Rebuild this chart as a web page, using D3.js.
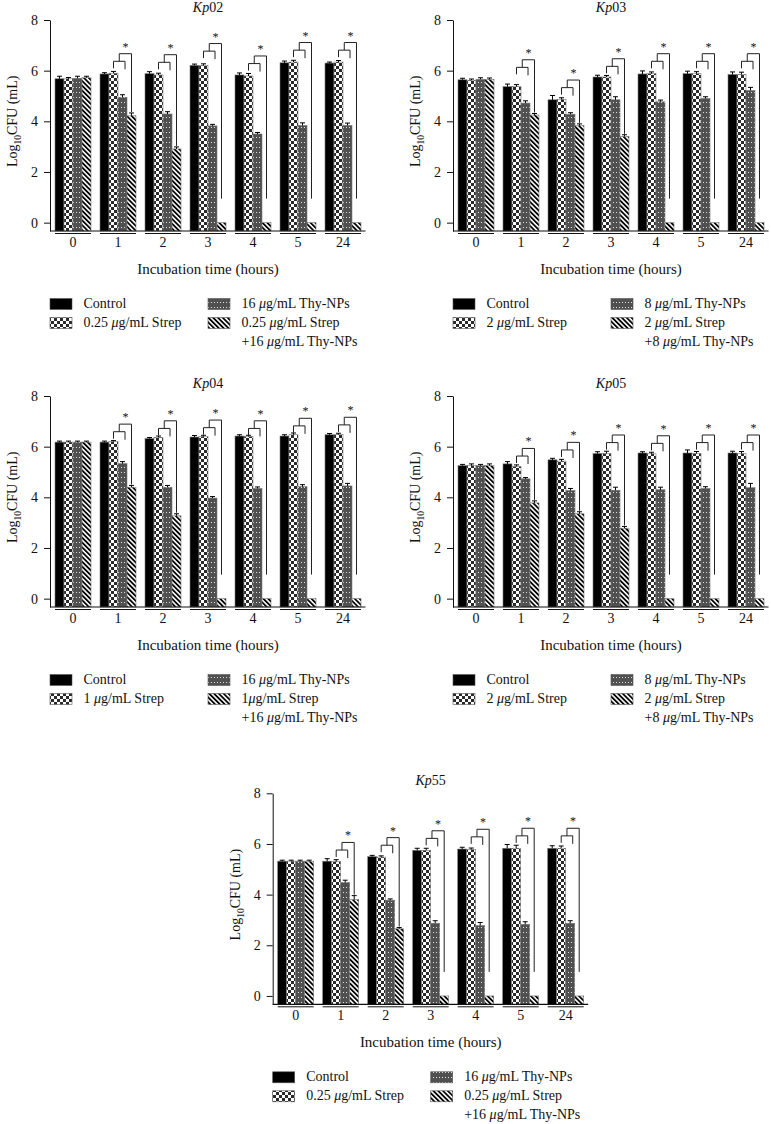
<!DOCTYPE html>
<html>
<head>
<meta charset="utf-8">
<script src="https://cdn.jsdelivr.net/npm/d3@7"></script>
<style>
body { margin: 0; background: #fff; }
text { font-family: "Liberation Serif", "DejaVu Serif", serif; fill: #111; }
</style>
</head>
<body>
<script>
var hours = ["0", "1", "2", "3", "4", "5", "24"];
var yTicks = [0, 2, 4, 6, 8];

// rows: control, strep, thy-NPs, strep + thy-NPs
var kp02 = [[5.68, 5.87, 5.88, 6.21, 5.83, 6.31, 6.30],
            [5.68, 5.90, 5.83, 6.21, 5.79, 6.34, 6.34],
            [5.70, 4.95, 4.29, 3.82, 3.50, 3.84, 3.84],
            [5.72, 4.22, 2.91, 0, 0, 0, 0]];
var kp02Err = [[0.08, 0.03, 0.06, 0.03, 0.06, 0.05, 0.02],
               [0.03, 0.05, 0.05, 0.04, 0.08, 0.05, 0.04],
               [0.06, 0.08, 0.07, 0.04, 0.04, 0.08, 0.07],
               [0.04, 0.09, 0.06, 0, 0, 0, 0]];
var kp02Sig = [null, 6.37, 6.33, 6.77, 6.28, 6.81, 6.81];

var kp03 = [[5.64, 5.37, 4.85, 5.75, 5.87, 5.88, 5.85],
            [5.62, 5.37, 4.87, 5.75, 5.88, 5.88, 5.85],
            [5.66, 4.72, 4.28, 4.85, 4.77, 4.90, 5.22],
            [5.66, 4.25, 3.83, 3.40, 0, 0, 0]];
var kp03Err = [[0.04, 0.08, 0.15, 0.05, 0.10, 0.08, 0.08],
               [0.03, 0.06, 0.04, 0.04, 0.05, 0.06, 0.07],
               [0.04, 0.07, 0.04, 0.10, 0.05, 0.05, 0.10],
               [0.03, 0.04, 0.05, 0.05, 0, 0, 0]];
var kp03Sig = [null, 6.13, 5.33, 6.17, 6.37, 6.37, 6.37];

var kp04 = [[6.18, 6.18, 6.32, 6.38, 6.42, 6.42, 6.47],
            [6.18, 6.20, 6.37, 6.40, 6.40, 6.47, 6.48],
            [6.18, 5.33, 4.40, 3.97, 4.35, 4.42, 4.45],
            [6.18, 4.40, 3.27, 0, 0, 0, 0]];
var kp04Err = [[0.02, 0.02, 0.02, 0.04, 0.03, 0.03, 0.03],
               [0.02, 0.02, 0.03, 0.03, 0.03, 0.05, 0.03],
               [0.02, 0.06, 0.05, 0.04, 0.04, 0.06, 0.08],
               [0.02, 0.05, 0.06, 0, 0, 0, 0]];
var kp04Sig = [null, 6.59, 6.72, 6.75, 6.72, 6.82, 6.86];

var kp05 = [[5.25, 5.32, 5.48, 5.73, 5.75, 5.75, 5.75],
            [5.25, 5.22, 5.43, 5.73, 5.72, 5.73, 5.73],
            [5.25, 4.73, 4.27, 4.28, 4.30, 4.35, 4.38],
            [5.25, 3.78, 3.35, 2.78, 0, 0, 0]];
var kp05Err = [[0.03, 0.07, 0.04, 0.05, 0.03, 0.10, 0.05],
               [0.05, 0.04, 0.05, 0.07, 0.04, 0.06, 0.06],
               [0.03, 0.03, 0.06, 0.10, 0.08, 0.05, 0.15],
               [0.05, 0.06, 0.06, 0.05, 0, 0, 0]];
var kp05Sig = [null, 5.63, 5.87, 6.16, 6.13, 6.16, 6.16];

var kp55 = [[5.32, 5.32, 5.50, 5.75, 5.80, 5.83, 5.83],
            [5.32, 5.30, 5.48, 5.75, 5.78, 5.83, 5.83],
            [5.32, 4.48, 3.78, 2.87, 2.78, 2.83, 2.87],
            [5.32, 3.80, 2.65, 0, 0, 0, 0]];
var kp55Err = [[0.02, 0.08, 0.03, 0.06, 0.05, 0.13, 0.08],
               [0.02, 0.06, 0.03, 0.06, 0.04, 0.10, 0.07],
               [0.02, 0.07, 0.03, 0.08, 0.10, 0.08, 0.08],
               [0.02, 0.14, 0.03, 0, 0, 0, 0]];
var kp55Sig = [null, 5.76, 5.95, 6.22, 6.28, 6.32, 6.32];

// legend labels: control, strep, thy-NPs, combination (two lines)
var legend02 = ["Control", "0.25 μg/mL Strep", "16 μg/mL Thy-NPs", "0.25 μg/mL Strep", "+16 μg/mL Thy-NPs"];
var legend03 = ["Control", "2 μg/mL Strep", "8 μg/mL Thy-NPs", "2 μg/mL Strep", "+8 μg/mL Thy-NPs"];
var legend04 = ["Control", "1 μg/mL Strep", "16 μg/mL Thy-NPs", "1μg/mL Strep", "+16 μg/mL Thy-NPs"];
var legend05 = ["Control", "2 μg/mL Strep", "8 μg/mL Thy-NPs", "2 μg/mL Strep", "+8 μg/mL Thy-NPs"];
var legend55 = ["Control", "0.25 μg/mL Strep", "16 μg/mL Thy-NPs", "0.25 μg/mL Strep", "+16 μg/mL Thy-NPs"];

var panels = [
  {name: "02", vals: kp02, err: kp02Err, sig: kp02Sig, legend: legend02, left: 50, top: 20},
  {name: "03", vals: kp03, err: kp03Err, sig: kp03Sig, legend: legend03, left: 453, top: 20},
  {name: "04", vals: kp04, err: kp04Err, sig: kp04Sig, legend: legend04, left: 50, top: 396},
  {name: "05", vals: kp05, err: kp05Err, sig: kp05Sig, legend: legend05, left: 453, top: 396},
  {name: "55", vals: kp55, err: kp55Err, sig: kp55Sig, legend: legend55, left: 272.7, top: 793.3}
];

var svg = d3.select("body")
            .append("svg")
            .attr("width", 771)
            .attr("height", 1124);

var defs = svg.append("defs");

var pc = defs.append("pattern").attr("id", "checker")
             .attr("patternUnits", "userSpaceOnUse")
             .attr("width", 6).attr("height", 6);
pc.append("rect").attr("width", 6).attr("height", 6).attr("fill", "#fff");
pc.append("rect").attr("width", 3).attr("height", 3).attr("fill", "#2a2a2a");
pc.append("rect").attr("x", 3).attr("y", 3).attr("width", 3).attr("height", 3).attr("fill", "#2a2a2a");

var pd = defs.append("pattern").attr("id", "dots")
             .attr("patternUnits", "userSpaceOnUse")
             .attr("width", 3).attr("height", 5);
pd.append("rect").attr("width", 3).attr("height", 5).attr("fill", "#505050");
pd.append("rect").attr("x", 1).attr("y", 2).attr("width", 1).attr("height", 1).attr("fill", "#e0e0e0");

var ph = defs.append("pattern").attr("id", "hatch")
             .attr("patternUnits", "userSpaceOnUse")
             .attr("width", 3.4).attr("height", 10)
             .attr("patternTransform", "rotate(-45)");
ph.append("rect").attr("width", 3.4).attr("height", 10).attr("fill", "#fff");
ph.append("rect").attr("width", 1.8).attr("height", 10).attr("fill", "#000");

var fills = ["#000", "url(#checker)", "url(#dots)", "url(#hatch)"];

// writes a label, italic for the micro sign
function richText(el, str) {
  var parts = str.split("μ");
  parts.forEach(function(p, i) {
    if (i > 0) el.append("tspan").attr("font-style", "italic").text("μ");
    el.append("tspan").text(p);
  });
}

function drawPanel(p) {
  var g = svg.append("g");
  var x = d3.scaleBand()
            .domain(hours)
            .range([p.left + 0.5, p.left + 315.5])
            .paddingInner(0.2)
            .paddingOuter(0.1);
  var xs = d3.scaleBand().domain([0, 1, 2, 3]).range([0, x.bandwidth()]);
  var y = d3.scaleLinear().domain([-0.33, 8]).range([p.top + 211, p.top]);
  var bw = xs.bandwidth();
  var base = y(-0.33);

  var bars = [];
  hours.forEach(function(h, gi) {
    p.vals.forEach(function(series, si) {
      bars.push({h: h, gi: gi, si: si, v: series[gi], e: p.err[si][gi]});
    });
  });

  g.selectAll("rect.bar")
   .data(bars)
   .enter()
   .append("rect")
   .attr("class", "bar")
   .attr("x", function(d) { return x(d.h) + xs(d.si); })
   .attr("y", function(d) { return y(d.v); })
   .attr("width", bw)
   .attr("height", function(d) { return base - y(d.v); })
   .attr("fill", function(d) { return fills[d.si]; })
   .attr("stroke", "#7a7a7a")
   .attr("stroke-width", 0.6);

  // error bars, upper half only
  var eb = bars.filter(function(d) { return d.v > 0; });
  g.selectAll("path.err")
   .data(eb)
   .enter()
   .append("path")
   .attr("class", "err")
   .attr("d", function(d) {
       var cx = x(d.h) + xs(d.si) + bw / 2;
       var y1 = y(d.v + d.e) - 0.5;
       return "M" + cx + "," + y(d.v) + "V" + y1 + "M" + (cx - 2.5) + "," + y1 + "H" + (cx + 2.5);
   })
   .attr("fill", "none")
   .attr("stroke", "#000")
   .attr("stroke-width", 1);

  // y axis
  var ya = g.append("g")
            .attr("transform", "translate(" + p.left + ",0)")
            .call(d3.axisLeft(y).tickValues(yTicks).tickSize(6).tickSizeOuter(0).tickPadding(6));
  ya.selectAll("text").attr("font-family", "Liberation Serif, serif").attr("font-size", "14px").attr("fill", "#111");
  ya.select(".domain").attr("stroke", "#111");
  ya.selectAll(".tick line").attr("stroke", "#111");

  // x baseline
  g.append("line")
   .attr("x1", p.left).attr("x2", x.range()[1])
   .attr("y1", base).attr("y2", base)
   .attr("stroke", "#111").attr("stroke-width", 1.2);

  // group underlines
  g.selectAll("line.under")
   .data(hours)
   .enter()
   .append("line")
   .attr("class", "under")
   .attr("x1", function(d) { return x(d); })
   .attr("x2", function(d) { return x(d) + x.bandwidth(); })
   .attr("y1", base + 2.5).attr("y2", base + 2.5)
   .attr("stroke", "#111").attr("stroke-width", 1);

  var xa = g.append("g")
            .attr("transform", "translate(0," + base + ")")
            .call(d3.axisBottom(x).tickSize(0).tickPadding(6));
  xa.select(".domain").remove();
  xa.selectAll("text").attr("font-family", "Liberation Serif, serif").attr("font-size", "14px").attr("fill", "#111");

  // axis titles
  g.append("text")
   .attr("x", p.left + 158)
   .attr("y", base + 43)
   .attr("text-anchor", "middle")
   .attr("font-size", "15px")
   .text("Incubation time (hours)");

  var yl = g.append("text")
            .attr("transform", "translate(" + (p.left - 33) + "," + ((y(8) + y(0)) / 2) + ") rotate(-90)")
            .attr("text-anchor", "middle")
            .attr("font-size", "14px");
  yl.append("tspan").text("Log");
  yl.append("tspan").attr("font-size", "9.5px").attr("dy", 4).text("10");
  yl.append("tspan").attr("dy", -4).text("CFU (mL)");

  var tt = g.append("text")
            .attr("x", p.left + 158)
            .attr("y", p.top - 8)
            .attr("text-anchor", "middle")
            .attr("font-size", "14px");
  tt.append("tspan").attr("font-style", "italic").text("Kp");
  tt.append("tspan").text(p.name);

  // significance brackets
  var sigs = hours.map(function(h, gi) { return {h: h, gi: gi}; })
                  .filter(function(d) { return p.sig[d.gi] != null; });
  sigs.forEach(function(d) {
    var bx = x(d.h);
    var sy = y(p.sig[d.gi]);
    var by = y(p.sig[d.gi] + 0.3);
    var xL = bx + 1.5 * bw, xR = bx + 2.78 * bw, xM = (xL + xR) / 2, xB = bx + 3.5 * bw;
    var v4 = p.vals[3][d.gi];
    var yEnd = v4 > 0 ? y(v4 + p.err[3][d.gi]) - 1.5 : y(0.95);
    g.append("path")
     .attr("d", "M" + xL + "," + (sy + 7) + "V" + sy + "H" + xR + "V" + (sy + 8))
     .attr("fill", "none").attr("stroke", "#222").attr("stroke-width", 1);
    g.append("path")
     .attr("d", "M" + xM + "," + sy + "V" + by + "H" + xB + "V" + yEnd)
     .attr("fill", "none").attr("stroke", "#222").attr("stroke-width", 1);
    g.append("text")
     .attr("x", (xM + xB) / 2)
     .attr("y", by - 3)
     .attr("text-anchor", "middle")
     .attr("font-size", "12px")
     .text("*");
  });

  // legend
  var rows = [base + 77, base + 96, base + 115];
  var cols = [p.left, p.left + 158];
  var slot = [[0, 0], [0, 1], [1, 0], [1, 1]];
  fills.forEach(function(f, si) {
    var cx = cols[slot[si][0]], ry = rows[slot[si][1]];
    g.append("rect")
     .attr("x", cx).attr("y", ry - 9.5)
     .attr("width", 22).attr("height", 11)
     .attr("fill", f)
     .attr("stroke", "#555").attr("stroke-width", 0.6);
    var t = g.append("text")
             .attr("x", cx + 33.5).attr("y", ry)
             .attr("font-size", "14px");
    richText(t, p.legend[si]);
  });
  var t2 = g.append("text")
            .attr("x", cols[1] + 33.5).attr("y", rows[2])
            .attr("font-size", "14px");
  richText(t2, p.legend[4]);
}

panels.forEach(drawPanel);
</script>
</body>
</html>
